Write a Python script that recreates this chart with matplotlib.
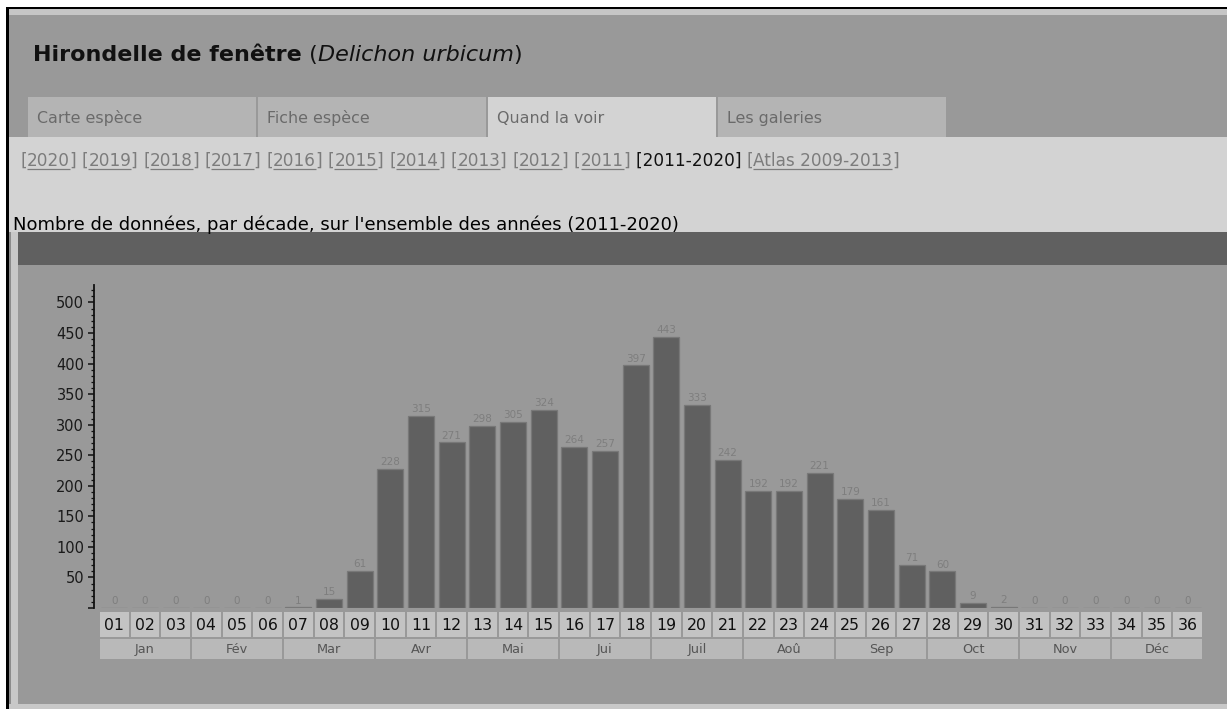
import matplotlib
matplotlib.use('Agg')
import matplotlib.pyplot as plt
from matplotlib.patches import Rectangle
from matplotlib.ticker import MultipleLocator

# ---------------- data ----------------
decades = ['01', '02', '03', '04', '05', '06', '07', '08', '09', '10', '11', '12',
           '13', '14', '15', '16', '17', '18', '19', '20', '21', '22', '23', '24',
           '25', '26', '27', '28', '29', '30', '31', '32', '33', '34', '35', '36']
counts = [0, 0, 0, 0, 0, 0, 1, 15, 61, 228, 315, 271,
          298, 305, 324, 264, 257, 397, 443, 333, 242, 192, 192, 221,
          179, 161, 71, 60, 9, 2, 0, 0, 0, 0, 0, 0]
months = ['Jan', 'Fév', 'Mar', 'Avr', 'Mai', 'Jui', 'Juil', 'Aoû', 'Sep', 'Oct', 'Nov', 'Déc']
year_links = ['2020', '2019', '2018', '2017', '2016', '2015', '2014', '2013', '2012', '2011']
period = '2011-2020'
atlas = 'Atlas 2009-2013'
tabs = ['Carte espèce', 'Fiche espèce', 'Quand la voir', 'Les galeries']
active_tab = 2
title_common = 'Hirondelle de fenêtre'
title_latin = 'Delichon urbicum'
subtitle = "Nombre de données, par décade, sur l'ensemble des années (2011-2020)"
y_ticks = [0, 50, 100, 150, 200, 250, 300, 350, 400, 450, 500]

# ---------------- figure ----------------
W, H = 1227, 709
fig = plt.figure(figsize=(W / 100, H / 100), dpi=100, facecolor='white')
bg = fig.add_axes([0, 0, 1, 1])
bg.set_xlim(0, W)
bg.set_ylim(H, 0)
bg.axis('off')
renderer = fig.canvas.get_renderer()


def rect(x0, y0, x1, y1, color, ax=bg, **kw):
    ax.add_patch(Rectangle((x0, y0), x1 - x0, y1 - y0, facecolor=color,
                           edgecolor='none', **kw))


# page frame / panels
rect(6, 7, W, 9, '#000000')
rect(6, 7, 9, H, '#000000')
rect(9, 9, W, 15, '#c6c6c6')
rect(9, 15, W, 137, '#999999')
rect(9, 137, W, 232, '#d3d3d3')
rect(9, 232, 18, 704, '#c8c8c8')
rect(9, 232, 10.5, 704, '#8c8c8c')
rect(18, 232, W, 265, '#606060')
rect(18, 265, W, 704, '#999999')
rect(9, 704, W, H, '#c8c8c8')

# tabs
tab_x = [(28, 256), (258, 486), (488, 716), (718, 946)]
for i, (name, (x0, x1)) in enumerate(zip(tabs, tab_x)):
    rect(x0, 97, x1, 137, '#d3d3d3' if i == active_tab else '#b4b4b4')
    bg.text(x0 + 9, 123, name, fontsize=11.4, color='#6a6a6a', va='baseline',
            family='DejaVu Sans')


def tw(s, **kw):
    t = bg.text(0, 0, s, **kw)
    w = t.get_window_extent(renderer).width
    t.remove()
    return w


def seq(x, y, parts):
    for s, kw, ul in parts:
        bg.text(x, y, s, va='baseline', family='DejaVu Sans', **kw)
        w = tw(s, family='DejaVu Sans', **{k: v for k, v in kw.items() if k != 'color'})
        if ul:
            bg.plot([x, x + w], [y + 2.5, y + 2.5], color=kw.get('color', 'k'),
                    lw=0.9, solid_capstyle='butt')
        x += w
    return x


# title
fs_t = 16
seq(33, 61, [(title_common, dict(fontsize=fs_t, fontweight='bold', color='#111111'), False),
             (' (', dict(fontsize=fs_t, color='#111111'), False),
             (title_latin, dict(fontsize=fs_t, style='italic', color='#111111'), False),
             (')', dict(fontsize=fs_t, color='#111111'), False)])

# year links
link_col = '#7c7c7c'
fs_link = 12.2
parts = []
for y in year_links:
    parts += [('[', dict(fontsize=fs_link, color=link_col), False),
              (y, dict(fontsize=fs_link, color=link_col), True),
              ('] ', dict(fontsize=fs_link, color=link_col), False)]
parts += [('[' + period + '] ', dict(fontsize=fs_link, color='#111111'), False),
          ('[', dict(fontsize=fs_link, color=link_col), False),
          (atlas, dict(fontsize=fs_link, color=link_col), True),
          (']', dict(fontsize=fs_link, color=link_col), False)]
seq(20, 166, parts)

# subtitle
bg.text(13, 230, subtitle, fontsize=13, color='#000000', va='baseline',
        family='DejaVu Sans')

# ---------------- chart ----------------
x_left_px, x_cells_px, x_right_px = 94, 99, 1203
y_top_px, y_zero_px = 285, 608
cw = (x_right_px - x_cells_px) / len(decades)
px_per_unit = 0.6111
ax = fig.add_axes([x_left_px / W, (H - y_zero_px) / H,
                   (x_right_px - x_left_px) / W, (y_zero_px - y_top_px) / H])
ax.patch.set_alpha(0)
ax.set_xlim(-0.5 - (x_cells_px - x_left_px) / cw, len(decades) - 0.5)
ax.set_ylim(0, (y_zero_px - y_top_px) / px_per_unit)
xs = list(range(len(decades)))
ax.bar(xs, counts, width=0.84, color='#606060', edgecolor='#787878', linewidth=0.9)
for x, v in zip(xs, counts):
    ax.annotate(str(v), (x, v), xytext=(0, 1.3), textcoords='offset points',
                ha='center', va='bottom', fontsize=7.5, color='#7e7e7e')

for s in ['top', 'right', 'bottom']:
    ax.spines[s].set_visible(False)
ax.spines['left'].set_linewidth(1.3)
ax.spines['left'].set_color('#111111')
ax.set_xticks([])
ax.set_yticks(y_ticks)
ax.set_yticklabels([''] + [str(t) for t in y_ticks[1:]])
ax.yaxis.set_minor_locator(MultipleLocator(10))
ax.tick_params(axis='y', which='major', length=4, width=1.1, color='#111111',
               labelsize=10.5, labelcolor='#1a1a1a', pad=3)
ax.tick_params(axis='y', which='minor', length=2, width=0.9, color='#111111')

# decade / month cells
cax = fig.add_axes([x_left_px / W, (H - 661) / H, (x_right_px - x_left_px) / W, 51 / H])
cax.set_xlim(ax.get_xlim())
cax.set_ylim(661, 610)
cax.axis('off')
g = 0.03
for x, lab in zip(xs, decades):
    rect(x - 0.5 + g, 612, x + 0.5 - g, 637, '#c3c3c3', ax=cax)
    cax.text(x, 625, lab, ha='center', va='center', fontsize=11.3, color='#111111')
for m, lab in enumerate(months):
    rect(3 * m - 0.5 + g, 639, 3 * m + 2.5 - g, 659, '#b9b9b9', ax=cax)
    cax.text(3 * m + 1, 649.5, lab, ha='center', va='center', fontsize=9.3, color='#555555')

fig.savefig('out.png', dpi=100, facecolor='white')
